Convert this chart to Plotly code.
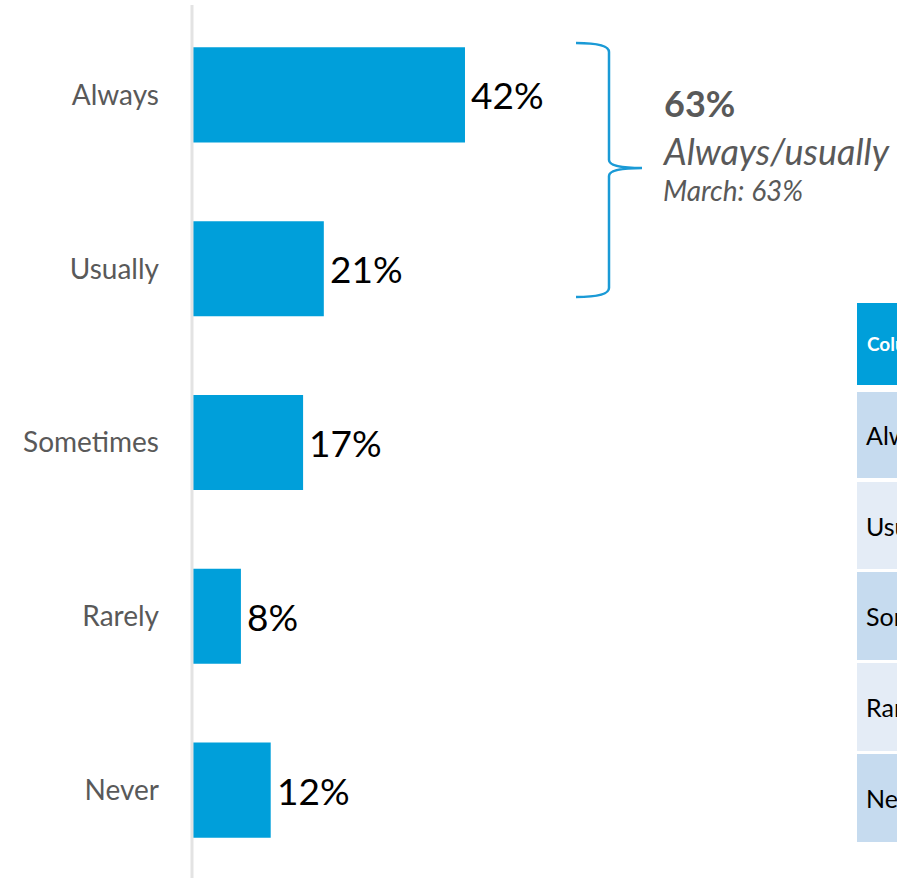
import plotly.graph_objects as go

categories = ["Always", "Usually", "Sometimes", "Rarely", "Never"]
values = [42, 20.2, 17, 7.4, 12]
value_labels = ["42%", "21%", "17%", "8%", "12%"]

summary_value = "63%"
summary_label = "Always/usually"
summary_prev = "March: 63%"

table_header = "Column1"
table_rows = ["Always", "Usually", "Sometimes", "Rarely", "Never"]

BLUE = "#009FDA"
GREY = "#595959"
FONT = "Lato"

W, H = 897, 879
L, T, R, B = 193, 8, 0, 2
PW, PH = W - L - R, H - T - B


def px(X):
    return (X - L) / PW


def py(Y):
    return 1 - (Y - T) / PH


fig = go.Figure()
fig.add_trace(go.Bar(
    y=categories, x=values, orientation="h",
    marker=dict(color=BLUE, line=dict(width=0)),
    cliponaxis=False, hoverinfo="skip",
))

shapes = []
annotations = []

# value labels next to bar ends
for c, v, lab in zip(categories, values, value_labels):
    annotations.append(dict(x=v, y=c, xref="x", yref="y", text=lab,
                            showarrow=False, xanchor="left", yanchor="middle",
                            xshift=4,
                            font=dict(family=FONT, size=37, color="#000000")))

# axis line
shapes.append(dict(type="line", xref="paper", yref="paper",
                   x0=px(192), x1=px(192), y0=py(5), y1=py(878),
                   line=dict(color="#E3E3E3", width=3), layer="above"))

# bracket
pts = (f"M {px(576)},{py(43)} Q {px(609)},{py(43)} {px(609)},{py(52)} "
       f"L {px(609)},{py(160)} Q {px(609)},{py(168)} {px(642)},{py(168)} "
       f"Q {px(609)},{py(168)} {px(609)},{py(176)} "
       f"L {px(609)},{py(288)} Q {px(609)},{py(297)} {px(576)},{py(297)}")
shapes.append(dict(type="path", xref="paper", yref="paper", path=pts,
                   line=dict(color="#1A9AD6", width=2.5)))

annotations.append(dict(x=px(662), y=py(103), xref="paper", yref="paper",
                        text=summary_value, showarrow=False,
                        xanchor="left", yanchor="middle",
                        font=dict(family=FONT, size=36, color=GREY, weight="bold")))
annotations.append(dict(x=px(660), y=py(151), xref="paper", yref="paper",
                        text=summary_label, showarrow=False,
                        xanchor="left", yanchor="middle",
                        font=dict(family=FONT, size=36, color=GREY, style="italic")))
annotations.append(dict(x=px(661), y=py(190), xref="paper", yref="paper",
                        text=summary_prev, showarrow=False,
                        xanchor="left", yanchor="middle",
                        font=dict(family=FONT, size=28, color=GREY, style="italic")))

# table (cut off at the right edge)
tx0 = 857
tx1 = 1100
shapes.append(dict(type="rect", xref="paper", yref="paper",
                   x0=px(tx0), x1=px(tx1), y0=py(303), y1=py(385),
                   fillcolor=BLUE, line=dict(width=0)))
annotations.append(dict(x=px(865), y=py(344), xref="paper", yref="paper",
                        text=table_header, showarrow=False,
                        xanchor="left", yanchor="middle",
                        font=dict(family=FONT, size=19, color="white", weight="bold")))
row_bounds = [(392, 478), (482, 569), (572, 660), (663, 751), (754, 842)]
row_colors = ["#C6DBEF", "#E4ECF6", "#C6DBEF", "#E4ECF6", "#C6DBEF"]
for name, (y0, y1), col in zip(table_rows, row_bounds, row_colors):
    shapes.append(dict(type="rect", xref="paper", yref="paper",
                       x0=px(tx0), x1=px(tx1), y0=py(y0), y1=py(y1),
                       fillcolor=col, line=dict(width=0)))
    annotations.append(dict(x=px(864), y=py((y0 + y1) / 2), xref="paper", yref="paper",
                            text=name, showarrow=False,
                            xanchor="left", yanchor="middle",
                            font=dict(family=FONT, size=25, color="#000000")))

fig.update_layout(
    width=W, height=H,
    margin=dict(l=L, r=R, t=T, b=B),
    paper_bgcolor="white", plot_bgcolor="white",
    showlegend=False, bargap=0.453,
    xaxis=dict(range=[0, PW / 6.476], visible=False, fixedrange=True),
    yaxis=dict(autorange="reversed", showgrid=False, showline=False,
               zeroline=False, ticks="", ticklabelstandoff=33, fixedrange=True,
               tickfont=dict(family=FONT, size=28, color=GREY)),
    shapes=shapes, annotations=annotations,
)

fig.write_html("out.html", config={"displayModeBar": False},
               post_script="document.body.style.margin='0';document.body.style.overflow='hidden';")
